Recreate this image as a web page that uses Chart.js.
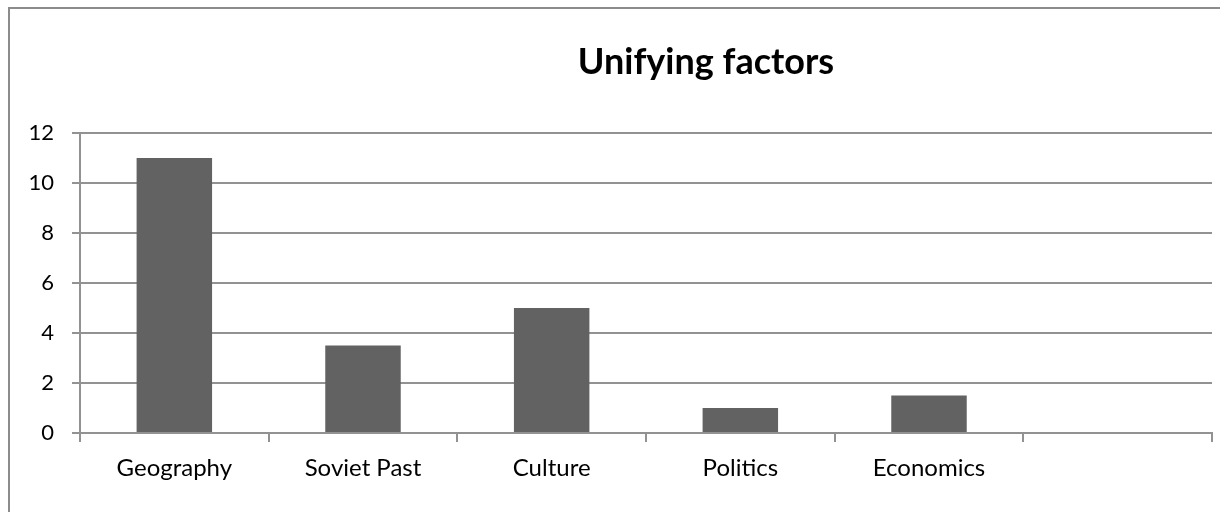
<!DOCTYPE html>
<html>
<head>
<meta charset="utf-8">
<script src="https://cdn.jsdelivr.net/npm/chart.js@4"></script>
<style>
  html,body{margin:0;padding:0;background:#fff;}
  #wrap{width:1220px;height:512px;position:relative;}
</style>
</head>
<body>
<div id="wrap"><canvas id="c" width="1220" height="512"></canvas></div>
<script>
const categories = ["Geography", "Soviet Past", "Culture", "Politics", "Economics", ""];
const counts = [11, 3.5, 5, 1, 1.5, null];
const yTicks = [0, 2, 4, 6, 8, 10, 12];
const titleText = "Unifying factors";

const frame = {
  id: 'frame',
  beforeDraw(chart){
    const ctx = chart.ctx;
    ctx.save();
    ctx.fillStyle = '#fff';
    ctx.fillRect(0, 0, chart.width, chart.height);
    ctx.strokeStyle = '#8c8c8c';
    ctx.lineWidth = 2;
    ctx.strokeRect(9, 8, 1300, 600);
    ctx.restore();
  },
  afterDraw(chart){
    const ctx = chart.ctx;
    ctx.save();
    ctx.font = 'bold 36px Lato';
    ctx.fillStyle = '#000';
    ctx.textAlign = 'center';
    ctx.textBaseline = 'alphabetic';
    ctx.fillText(titleText, 706, 74);
    ctx.restore();
  }
};

new Chart(document.getElementById('c'), {
  type: 'bar',
  data: {
    labels: categories,
    datasets: [{ data: counts, backgroundColor: '#626262', categoryPercentage: 1, barPercentage: 0.4 }]
  },
  options: {
    responsive: false,
    animation: false,
    layout: { padding: { top: 133, right: 8, left: 0, bottom: 0 } },
    plugins: { legend: { display: false }, title: { display: false }, tooltip: { enabled: false } },
    scales: {
      x: {
        grid: { drawOnChartArea: false, drawTicks: true, tickLength: 9, color: '#929292', lineWidth: 2, offset: true },
        border: { color: '#929292', width: 2 },
        ticks: { color: '#000', font: { family: 'Lato', size: 24 }, padding: 12, maxRotation: 0 },
        afterFit: s => { s.height = 79; }
      },
      y: {
        min: 0, max: 12,
        afterBuildTicks: s => { s.ticks = yTicks.map(v => ({ value: v })); },
        grid: { color: '#929292', lineWidth: 2, tickLength: 8 },
        border: { color: '#929292', width: 2 },
        ticks: { color: '#000', font: { family: 'Lato', size: 22 }, padding: 18 },
        afterFit: s => { s.width = 80; }
      }
    }
  },
  plugins: [frame]
});
</script>
</body>
</html>
